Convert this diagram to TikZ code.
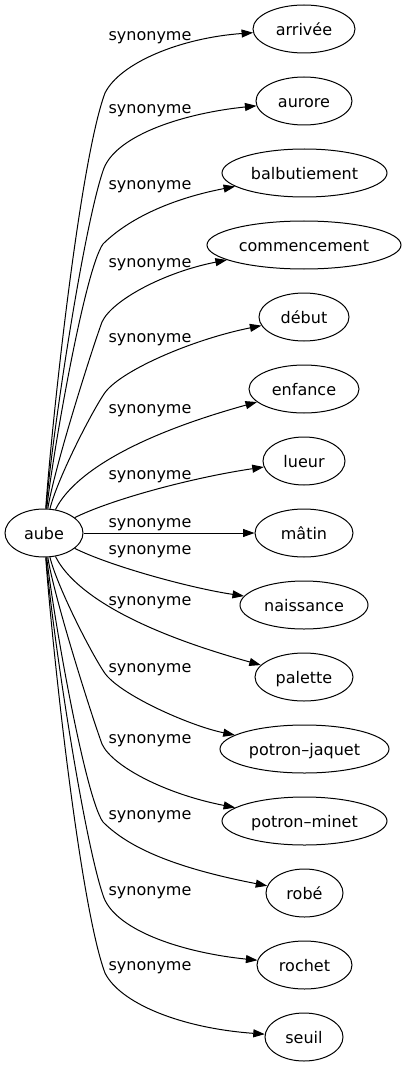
\documentclass[tikz,border=0pt]{standalone}
\usepackage{fontspec}
\setmainfont{DejaVu Sans}
\usetikzlibrary{arrows.meta,shapes.geometric}
\begin{document}
\begin{tikzpicture}[x=1pt,y=-1pt,
  every node/.style={font=\fontsize{16}{19}\selectfont},
  word/.style={ellipse, draw, line width=1pt, inner sep=0pt, minimum height=48pt, text height=14pt, text depth=1pt},
  lbl/.style={anchor=base, inner sep=0pt},
  link/.style={line width=1pt, -{Triangle[length=11.5pt,width=8pt]}}]
\useasboundingbox (0,0) rectangle (406,1067);
% nodes
\node[word, minimum width=78pt]  (aube)         at (44,533)    {aube};
\node[word, minimum width=102pt] (arrivee)      at (304,29)    {arrivée};
\node[word, minimum width=96pt]  (aurore)       at (304,101)   {aurore};
\node[word, minimum width=165pt] (balbutiement) at (304.5,173) {balbutiement};
\node[word, minimum width=194pt] (commencement) at (304,245)   {commencement};
\node[word, minimum width=90pt]  (debut)        at (304,317)   {début};
\node[word, minimum width=110pt] (enfance)      at (304,389)   {enfance};
\node[word, minimum width=82pt]  (lueur)        at (304,461)   {lueur};
\node[word, minimum width=98pt]  (matin)        at (304,533)   {mâtin};
\node[word, minimum width=128pt] (naissance)    at (304,605)   {naissance};
\node[word, minimum width=98pt]  (palette)      at (304,677)   {palette};
\node[word, minimum width=169pt] (jaquet)       at (304.5,749) {potron–jaquet};
\node[word, minimum width=165pt] (minet)        at (304.5,821) {potron–minet};
\node[word, minimum width=77pt]  (robe)         at (304.5,893) {robé};
\node[word, minimum width=95pt]  (rochet)       at (304.5,965) {rochet};
\node[word, minimum width=78pt]  (seuil)        at (304,1037)  {seuil};
% labels
\node[lbl] (l1)  at (150,40.5)  {synonyme};
\node[lbl] (l2)  at (150,113.5) {synonyme};
\node[lbl] (l3)  at (150,189.5) {synonyme};
\node[lbl] (l4)  at (150,267.5) {synonyme};
\node[lbl] (l5)  at (150,342.5) {synonyme};
\node[lbl] (l6)  at (150,413.5) {synonyme};
\node[lbl] (l7)  at (150,479.5) {synonyme};
\node[lbl] (l8)  at (150,527.5) {synonyme};
\node[lbl] (l9)  at (150,554.5) {synonyme};
\node[lbl] (l10) at (150,605.5) {synonyme};
\node[lbl] (l11) at (150,672.5) {synonyme};
\node[lbl] (l12) at (150,743.5) {synonyme};
\node[lbl] (l13) at (150,819.5) {synonyme};
\node[lbl] (l14) at (150,895.5) {synonyme};
\node[lbl] (l15) at (150,970.5) {synonyme};
% upper edges
\draw[link] (aube) .. controls (52,420) and (80,160) .. (105,93) .. controls (120,63) and (180,38) .. (arrivee);
\draw[link] (aube) .. controls (52,436) and (84,223) .. (104,168) .. controls (118,134) and (186,113) .. (aurore);
\draw[link] (aube) .. controls (53,452) and (85,269) .. (103,244) .. controls (125,222) and (165,200) .. (balbutiement);
\draw[link] (aube) .. controls (54,469) and (91,352) .. (102,322) .. controls (112,300) and (165,272) .. (commencement);
\draw[link] (aube) .. controls (57,480) and (90,415) .. (104,394) .. controls (118,372) and (190,340) .. (debut);
\draw[link] (aube) .. controls (70,480) and (120,440) .. (enfance);
\draw[link] (aube) .. controls (110,500) and (190,478) .. (lueur);
\draw[link] (aube) -- (matin);
% lower edges
\draw[link] (aube) .. controls (110,566) and (190,588) .. (naissance);
\draw[link] (aube) .. controls (70,586) and (120,626) .. (palette);
\draw[link] (aube) .. controls (57,586) and (90,651) .. (104,672) .. controls (118,694) and (190,726) .. (jaquet);
\draw[link] (aube) .. controls (54,597) and (91,714) .. (102,744) .. controls (112,766) and (165,794) .. (minet);
\draw[link] (aube) .. controls (53,614) and (85,797) .. (103,822) .. controls (125,844) and (165,866) .. (robe);
\draw[link] (aube) .. controls (52,630) and (84,843) .. (104,898) .. controls (118,932) and (186,953) .. (rochet);
\draw[link] (aube) .. controls (52,646) and (80,906) .. (105,973) .. controls (120,1003) and (180,1028) .. (seuil);
\end{tikzpicture}
\end{document}
